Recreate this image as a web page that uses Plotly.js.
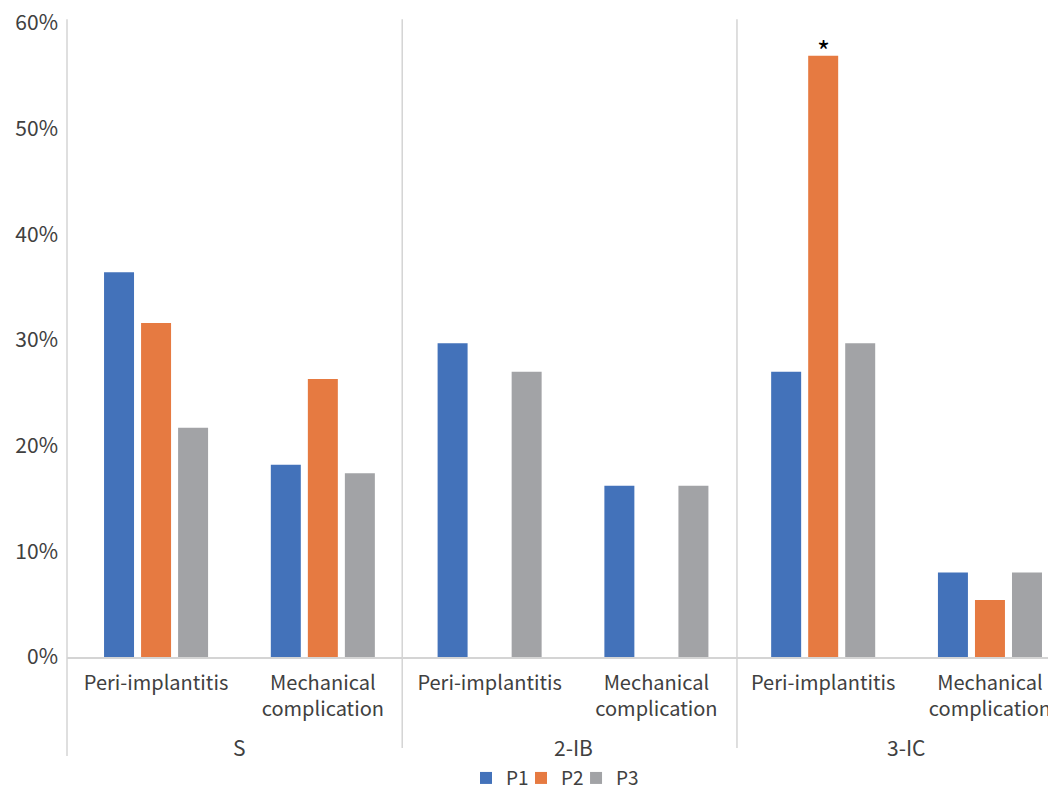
<!DOCTYPE html>
<html>
<head>
<meta charset="utf-8">
<script src="https://cdn.plot.ly/plotly-3.0.1.min.js"></script>
<style>html,body{margin:0;padding:0;background:#fff;}#chart{width:1048px;height:790px;}</style>
</head>
<body>
<div id="chart"></div>
<script>
// Data
const categories = ["Peri-implantitis", "Mechanical<br>complication", "Peri-implantitis", "Mechanical<br>complication", "Peri-implantitis", "Mechanical<br>complication"];
const groups = ["S", "2-IB", "3-IC"];
const seriesNames = ["P1", "P2", "P3"];
const p1 = [0.364, 0.182, 0.297, 0.162, 0.270, 0.080];
const p2 = [0.316, 0.263, 0, 0, 0.569, 0.054];
const p3 = [0.217, 0.174, 0.270, 0.162, 0.297, 0.080];
const yTicks = [0, 0.1, 0.2, 0.3, 0.4, 0.5, 0.6];
const yTickText = ["0%", "10%", "20%", "30%", "40%", "50%", "60%"];

const colors = ["#4372BA", "#E67A41", "#A2A3A6"];
const font = "'Noto Sans CJK KR', 'Noto Sans', sans-serif";
const idx = categories.map((_, i) => i);
const legendIds = ["legend", "legend2", "legend3"];
const legendX = [0.4067, 0.4628, 0.5189];

const traces = [p1, p2, p3].map((vals, k) => ({
  type: "bar",
  name: seriesNames[k],
  x: idx,
  y: vals,
  legend: legendIds[k],
  marker: {color: colors[k]},
  hoverinfo: "none"
}));

const groupCenters = groups.map((_, g) => 2 * g + 0.5);
const annotations = groups.map((g, i) => ({
  text: g, x: groupCenters[i], xref: "x", y: -0.1425, yref: "paper",
  yanchor: "middle", showarrow: false,
  font: {family: font, size: 21, color: "#404040"}
}));
annotations.push({
  text: "*", x: 4, xref: "x", y: p2[4], yref: "y", yanchor: "middle",
  yshift: 6, showarrow: false, font: {family: font, size: 28, color: "#000"}
});

const lineColor = "#D4D4D4";
const shapes = [
  {type: "line", xref: "paper", yref: "paper", x0: 0, x1: 0, y0: -0.156, y1: 1.006, line: {color: lineColor, width: 1.5}},
  {type: "line", xref: "x", yref: "paper", x0: 1.476, x1: 1.476, y0: -0.1435, y1: 1.006, line: {color: lineColor, width: 1.5}},
  {type: "line", xref: "x", yref: "paper", x0: 3.483, x1: 3.483, y0: -0.1435, y1: 1.006, line: {color: lineColor, width: 1.5}}
];

const layout = {
  width: 1048, height: 790,
  margin: {l: 67, r: 0, t: 23, b: 133, autoexpand: false},
  paper_bgcolor: "#fff", plot_bgcolor: "#fff",
  barmode: "group", bargap: 0.334, bargroupgap: 0.19,
  showlegend: true,
  xaxis: {
    range: [-0.534, 5.348], tickmode: "array", tickvals: idx, ticktext: categories,
    showgrid: false, zeroline: false, showline: true, linecolor: lineColor, linewidth: 1.5,
    ticks: "", tickfont: {family: font, size: 20, color: "#404040"}, ticklabelstandoff: 7,
    ticklabeloverflow: "allow", fixedrange: true
  },
  yaxis: {
    range: [0, 0.6], tickmode: "array", tickvals: yTicks, ticktext: yTickText,
    showgrid: false, zeroline: false, showline: false, ticks: "",
    tickfont: {family: font, size: 21, color: "#404040"}, ticklabelstandoff: 8,
    fixedrange: true
  },
  annotations: annotations,
  shapes: shapes,
  font: {family: font}
};
legendIds.forEach((id, k) => {
  layout[id] = {orientation: "h", x: legendX[k], xanchor: "left", y: -0.191, yanchor: "middle",
    font: {family: font, size: 19, color: "#404040"}, itemwidth: 30, bgcolor: "rgba(0,0,0,0)"};
});

Plotly.newPlot("chart", traces, layout, {displayModeBar: false, staticPlot: true});
</script>
</body>
</html>
